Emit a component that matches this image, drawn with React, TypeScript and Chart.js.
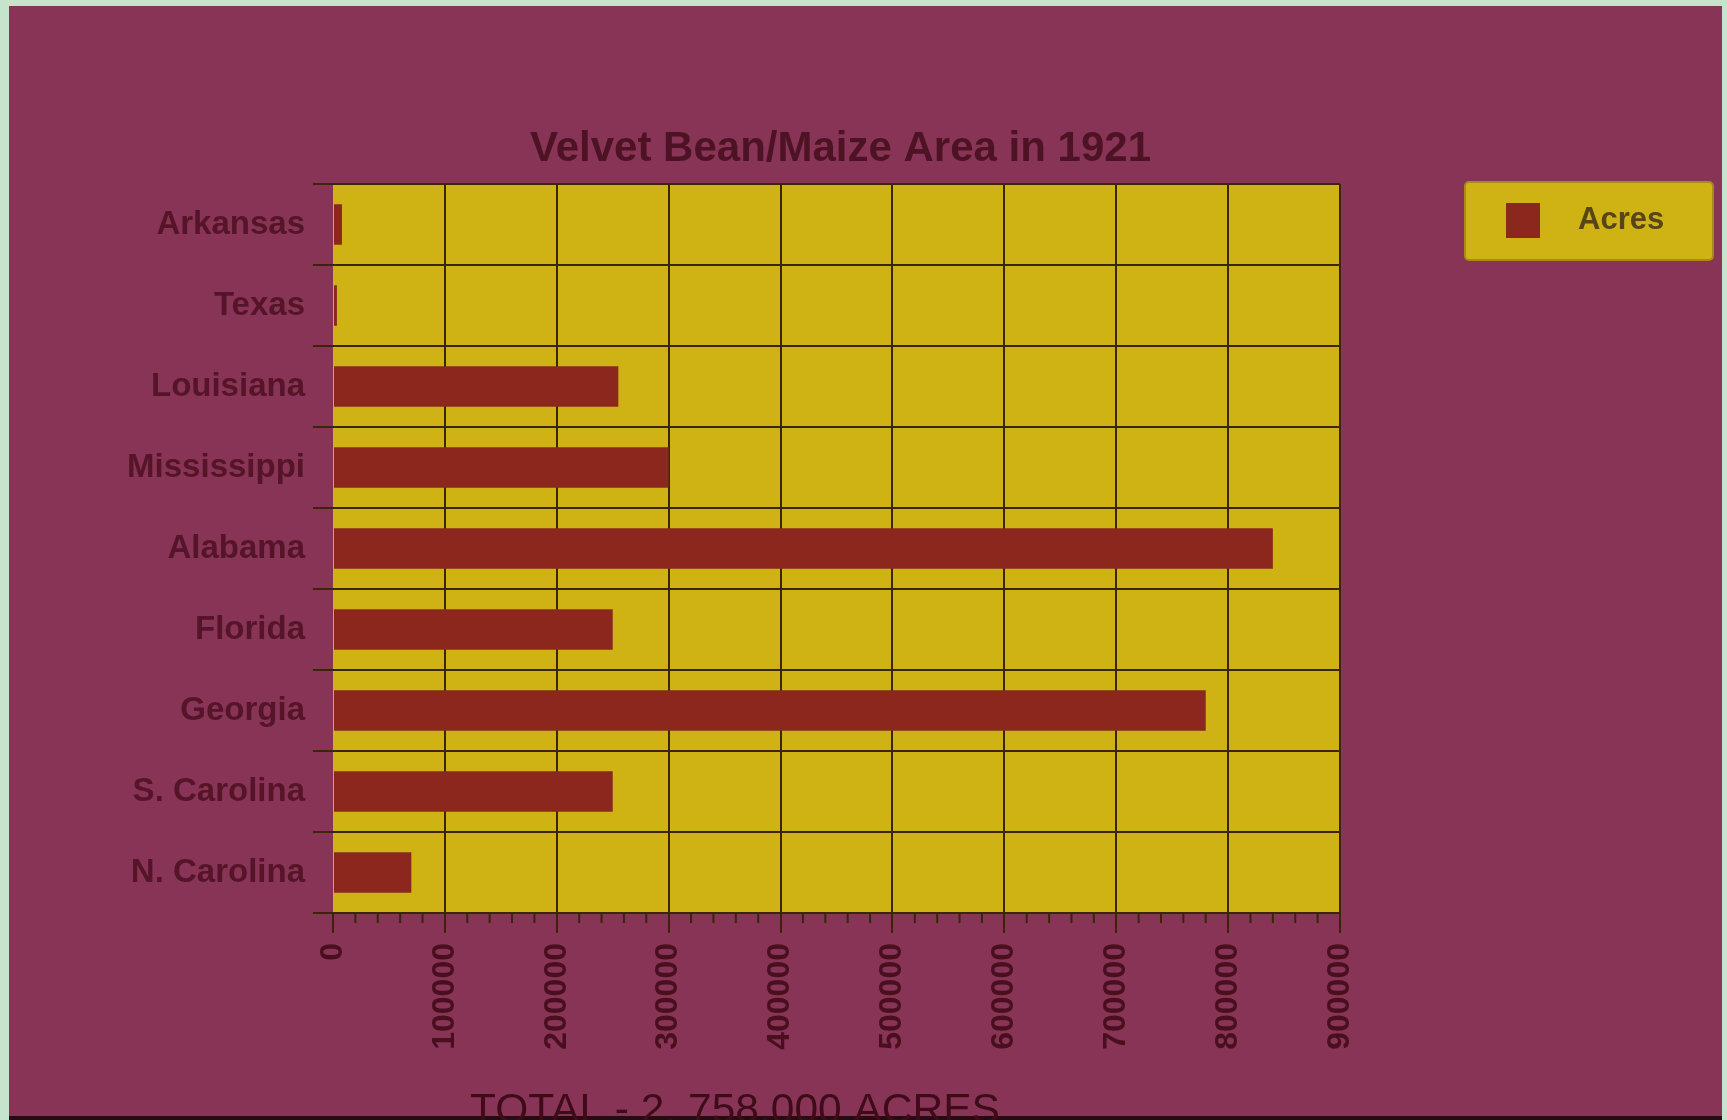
import React, { useEffect, useRef } from "react";
import { Chart, registerables } from "chart.js";

Chart.register(...registerables);

const states = ["Arkansas", "Texas", "Louisiana", "Mississippi", "Alabama", "Florida", "Georgia", "S. Carolina", "N. Carolina"];
const acres = [8000, 3500, 255000, 300000, 840000, 250000, 780000, 250000, 70000];
const seriesLabel = "Acres";
const titleText = "Velvet Bean/Maize Area in 1921";
const totalText = "TOTAL - 2, 758,000 ACRES";
const xMin = 0;
const xMax = 900000;
const xStep = 100000;
const minorStep = 20000;

const MAGENTA = "#883456";
const YELLOW = "#cfb314";
const BAR = "#8c271d";
const GRID = "#3a2508";
const LABEL = "#561428";
const FONT = "'Liberation Sans', Arial, Helvetica, sans-serif";

const decorPlugin = {
  id: "decor",
  beforeDraw(chart: any) {
    const { ctx, chartArea } = chart;
    ctx.save();
    ctx.fillStyle = YELLOW;
    ctx.fillRect(chartArea.left, chartArea.top, chartArea.right - chartArea.left, chartArea.bottom - chartArea.top);
    ctx.restore();
  },
  afterDraw(chart: any) {
    const { ctx, chartArea } = chart;
    const x = chart.scales.x;
    ctx.save();
    // minor ticks
    ctx.strokeStyle = GRID;
    ctx.lineWidth = 2;
    for (let v = xMin; v <= xMax; v += minorStep) {
      if (v % xStep === 0) continue;
      const px = x.getPixelForValue(v);
      ctx.beginPath();
      ctx.moveTo(px, chartArea.bottom);
      ctx.lineTo(px, chartArea.bottom + 10);
      ctx.stroke();
    }
    // title
    ctx.fillStyle = "#4d1324";
    ctx.font = `bold 42px ${FONT}`;
    ctx.textAlign = "center";
    ctx.textBaseline = "alphabetic";
    ctx.fillText(titleText, (chartArea.left + chartArea.right) / 2 + 4, 161);
    // legend box
    const lx = 1465, ly = 182, lw = 248, lh = 78;
    ctx.fillStyle = YELLOW;
    ctx.strokeStyle = "#a88a14";
    ctx.lineWidth = 2;
    ctx.beginPath();
    (ctx as any).roundRect(lx, ly, lw, lh, 4);
    ctx.fill();
    ctx.stroke();
    const ds = chart.data.datasets[0];
    ctx.fillStyle = ds.backgroundColor;
    ctx.fillRect(1506, 203, 34, 35);
    ctx.fillStyle = "#574516";
    ctx.font = `bold 31px ${FONT}`;
    ctx.textAlign = "left";
    ctx.textBaseline = "middle";
    ctx.fillText(ds.label, 1578, 220);
    // total note
    ctx.fillStyle = "#3e0c18";
    ctx.font = `42.5px ${FONT}`;
    ctx.textAlign = "left";
    ctx.textBaseline = "alphabetic";
    ctx.fillText(totalText, 470, 1123);
    ctx.restore();
  },
};

export default function App() {
  const ref = useRef<HTMLCanvasElement | null>(null);
  useEffect(() => {
    if (!ref.current) return;
    const chart = new Chart(ref.current, {
      type: "bar",
      data: {
        labels: states,
        datasets: [
          {
            label: seriesLabel,
            data: acres,
            backgroundColor: BAR,
            borderWidth: 0,
            barPercentage: 0.5,
            categoryPercentage: 1,
          },
        ],
      },
      options: {
        indexAxis: "y",
        animation: false,
        responsive: true,
        maintainAspectRatio: false,
        layout: { padding: { left: 0, top: 184, right: 387, bottom: 0 } },
        plugins: {
          legend: { display: false },
          title: { display: false },
          tooltip: { enabled: false },
        },
        scales: {
          x: {
            type: "linear",
            min: xMin,
            max: xMax,
            afterFit(scale: any) {
              scale.height = 207;
            },
            ticks: {
              stepSize: xStep,
              minRotation: 90,
              maxRotation: 90,
              padding: 10,
              color: "#4a0f1f",
              font: { family: FONT, size: 32, weight: "bold" },
              callback: (v: any) => String(v),
            },
            grid: {
              color: (c: any) => (c.index === 0 ? "rgba(0,0,0,0)" : GRID),
              tickColor: GRID,
              lineWidth: 2,
              tickLength: 20,
            },
            border: { display: false },
          },
          y: {
            type: "category",
            afterFit(scale: any) {
              scale.width = 333;
            },
            ticks: {
              padding: 8,
              color: LABEL,
              font: { family: FONT, size: 33, weight: "bold" },
            },
            grid: {
              offset: true,
              color: GRID,
              tickColor: GRID,
              lineWidth: 2,
              tickLength: 20,
            },
            border: { display: false },
          },
        },
      },
      plugins: [decorPlugin],
    } as any);
    return () => chart.destroy();
  }, []);

  return (
    <div style={{ position: "fixed", left: 0, top: 0, width: 1727, height: 1120, background: "#c6e4cb", overflow: "hidden" }}>
      <div style={{ position: "absolute", left: 9, top: 6, width: 1713, height: 1114, background: MAGENTA }} />
      <div style={{ position: "absolute", left: 9, top: 1116, width: 1713, height: 4, background: "#2a0a12" }} />
      <div style={{ position: "absolute", left: 0, top: 0, width: 1727, height: 1120 }}>
        <canvas ref={ref} />
      </div>
    </div>
  );
}
